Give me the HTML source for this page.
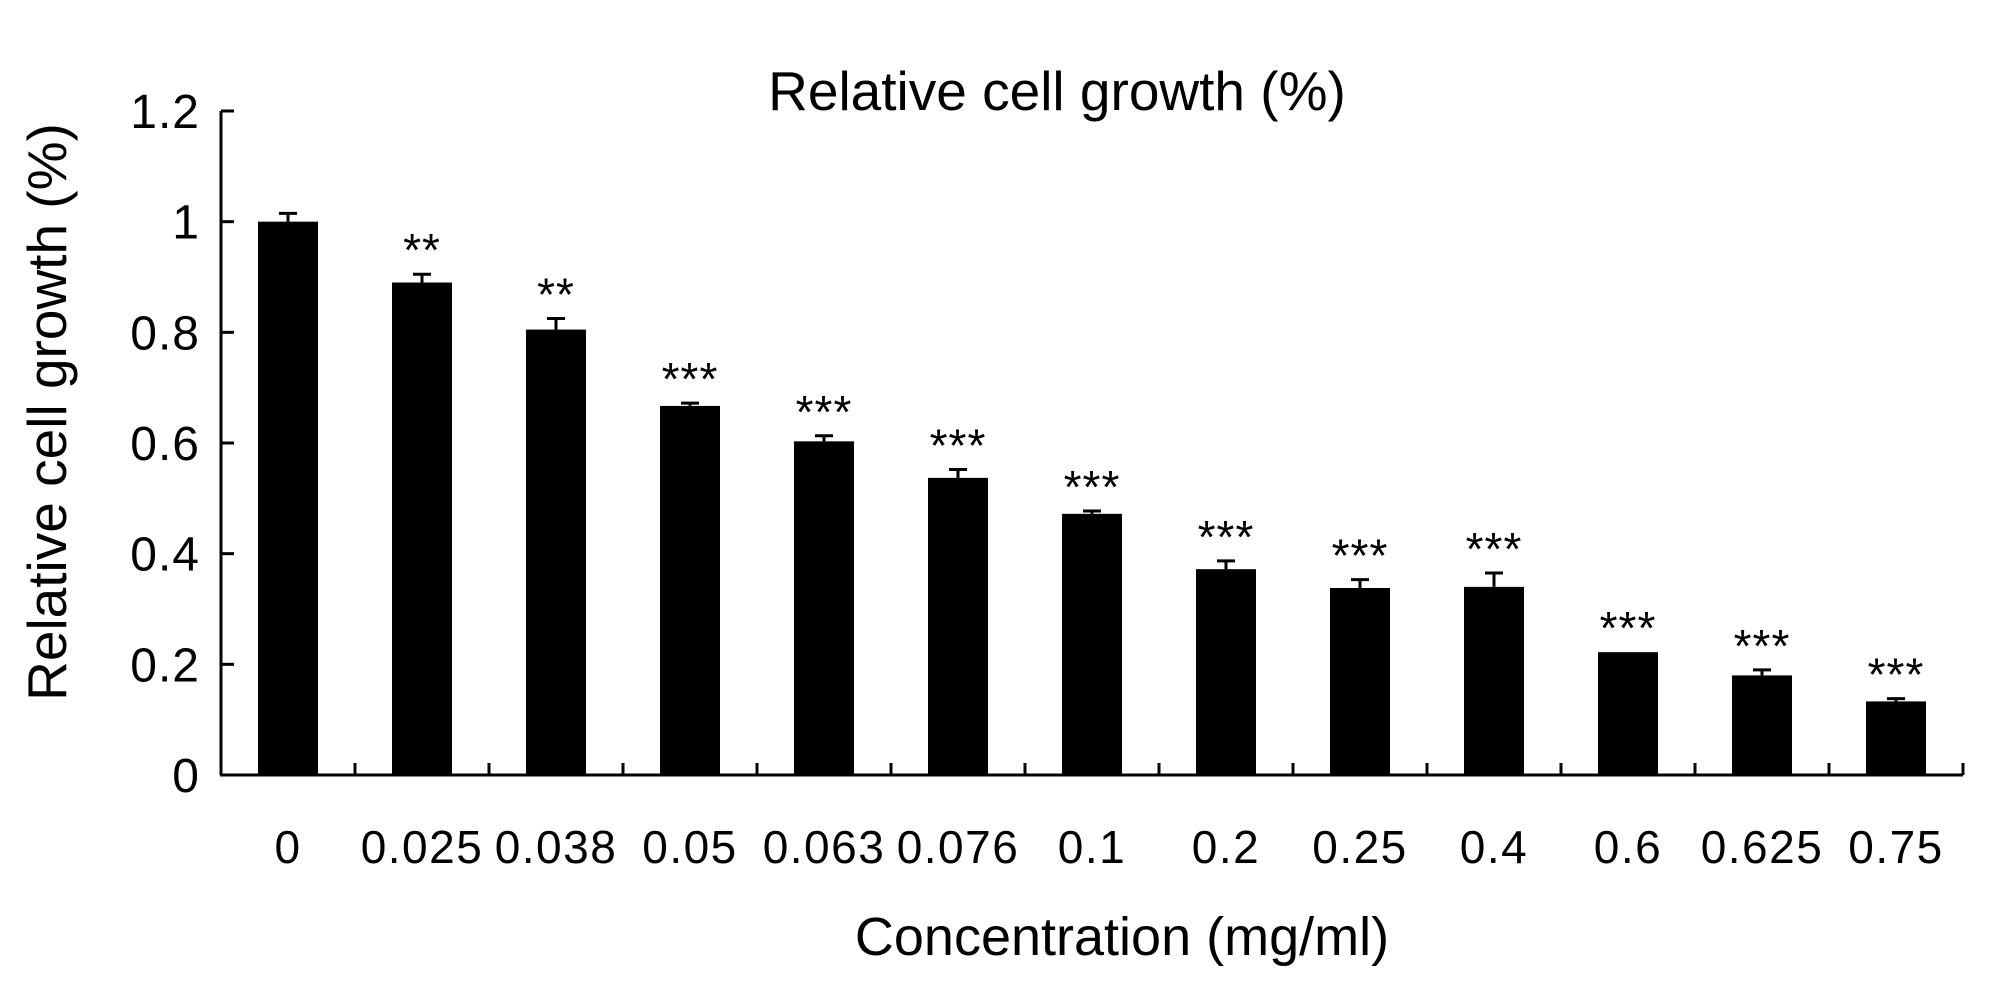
<!DOCTYPE html>
<html><head><meta charset="utf-8"><style>
html,body{margin:0;padding:0;background:#fff;}
svg{display:block;font-family:"Liberation Sans",Arial,sans-serif;}
</style></head><body>
<svg id="chart" width="2008" height="985" viewBox="0 0 2008 985" xmlns="http://www.w3.org/2000/svg">
<text x="1057" y="110" font-size="55" text-anchor="middle">Relative cell growth (%)</text>
<text transform="translate(66,412) rotate(-90)" font-size="55" text-anchor="middle">Relative cell growth (%)</text>
<text x="1122" y="955" font-size="54" text-anchor="middle">Concentration (mg/ml)</text>
<g id="plot"></g>
</svg>
<script>
const categories = ["0","0.025","0.038","0.05","0.063","0.076","0.1","0.2","0.25","0.4","0.6","0.625","0.75"];
const values = [1.0,0.89,0.805,0.667,0.603,0.537,0.472,0.372,0.338,0.34,0.222,0.18,0.133];
const errors = [0.015,0.015,0.02,0.005,0.01,0.015,0.005,0.015,0.015,0.025,0,0.01,0.005];
const stars = ["","**","**","***","***","***","***","***","***","***","***","***","***"];
const yTicks = [0,0.2,0.4,0.6,0.8,1,1.2];
const yTickLabels = ["0","0.2","0.4","0.6","0.8","1","1.2"];

const NS="http://www.w3.org/2000/svg";
const g=document.getElementById('plot');
const x0=221,x1=1963,yBase=775,yTop=111,yMax=1.2;
const step=(x1-x0)/categories.length;
const yS=v=>yBase-(v/yMax)*(yBase-yTop);
const xC=i=>x0+step*(i+0.5);
function mk(t,a){const e=document.createElementNS(NS,t);for(const k in a)e.setAttribute(k,a[k]);g.appendChild(e);return e;}

let ax=mk('line',{x1:x0,y1:yTop,x2:x0,y2:yBase,stroke:'#000','stroke-width':3});


let bx=mk('line',{x1:x0-1,y1:yBase,x2:x1,y2:yBase,stroke:'#000','stroke-width':3});



yTicks.forEach((v,i)=>{
  const y=yS(v);
  const t=mk('line',{x1:x0,y1:y,x2:x0+13,y2:y,stroke:'#000','stroke-width':3});
  
  
  const l=mk('text',{x:200,y:y+17,'font-size':48,'text-anchor':'end','letter-spacing':1});
  l.textContent=yTickLabels[i];
  
  
});
for(let i=1;i<=categories.length;i++){
  const x=x0+step*i;
  const t=mk('line',{x1:x,y1:yBase,x2:x,y2:yBase-12,stroke:'#000','stroke-width':3});
  
  
}
categories.forEach((c,i)=>{
  const cx=xC(i),bw=60;
  const r=mk('rect',{x:cx-bw/2,y:yS(values[i]),width:bw,height:yBase-yS(values[i]),fill:'#000'});
  
  
  if(errors[i]>0){
    const top=yS(values[i]+errors[i]);
    const e=mk('path',{d:`M${cx},${yS(values[i])}V${top}M${cx-9},${top}H${cx+9}`,stroke:'#000','stroke-width':3,fill:'none'});
    
    
  }
  if(stars[i]){
    const s=mk('text',{x:cx,y:yS(values[i]+errors[i])-8,'font-size':46,'text-anchor':'middle','letter-spacing':1});
    s.textContent=stars[i];
    
    
  }
  const l=mk('text',{x:cx,y:863,'font-size':46,'text-anchor':'middle','letter-spacing':1.5});
  l.textContent=c;
  
  
});
</script>
</body></html>
